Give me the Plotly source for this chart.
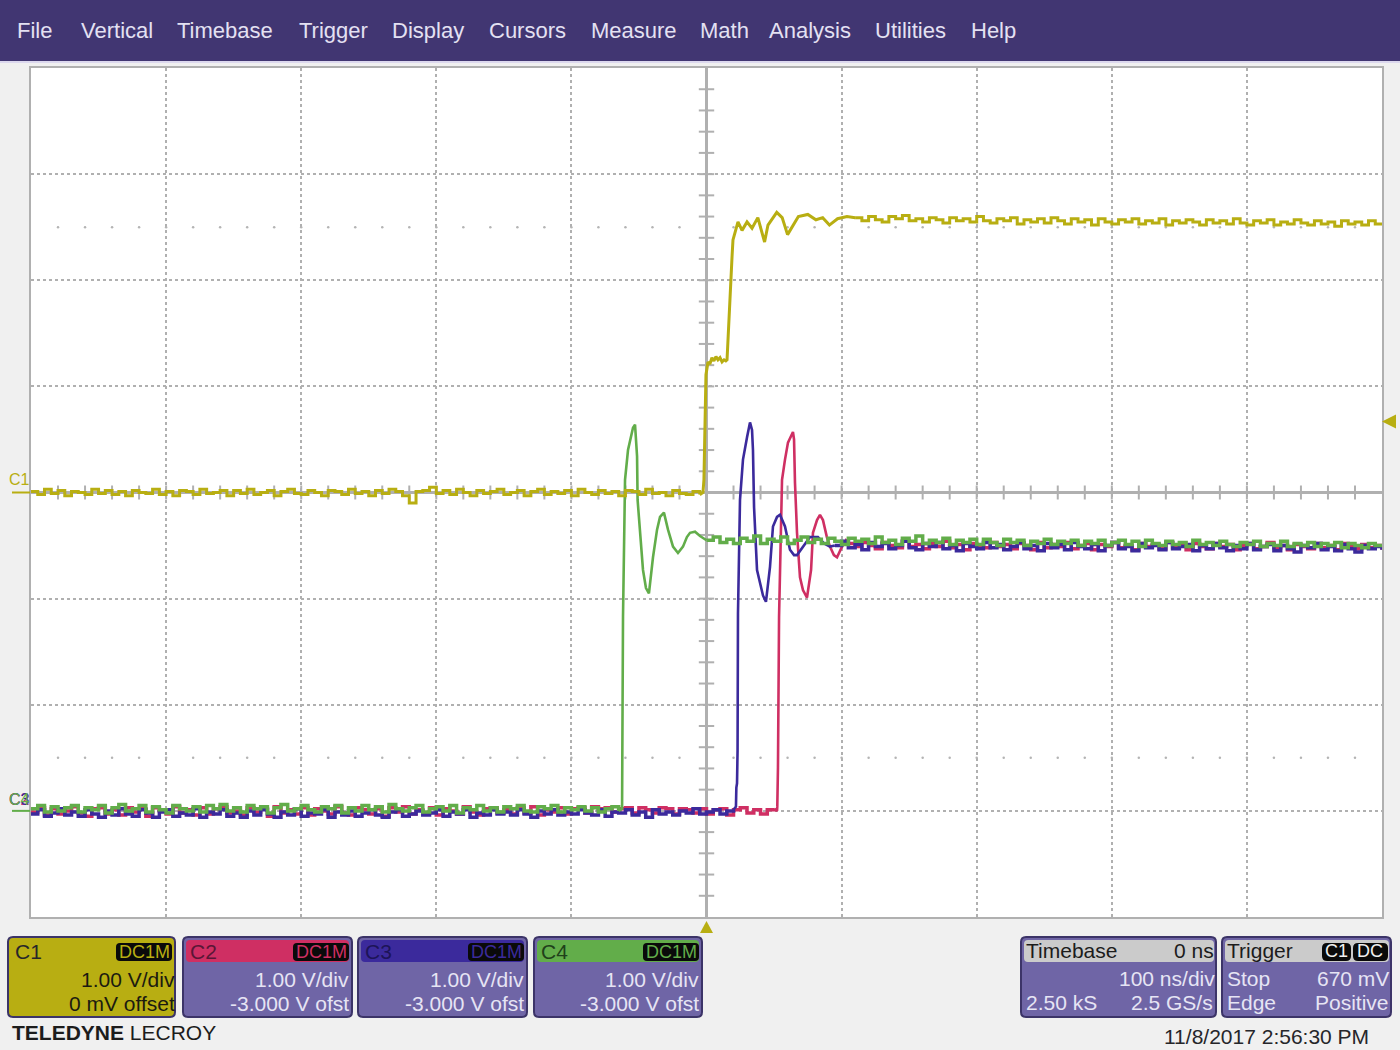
"""Teledyne LeCroy scope screen: four channels, 100 ns/div, 1 V/div."""

from __future__ import annotations

import numpy as np
import plotly.graph_objects as go

WIDTH, HEIGHT = 1400, 1050
PLOT_L, PLOT_R, PLOT_T, PLOT_B = 31, 1382, 68, 917
FONT = "Liberation Sans"

YELLOW = "#b8ae12"
RED = "#cf2f63"
BLUE = "#3b2a9c"
GREEN = "#62ad4a"
PANEL = "#6f65a6"
MENU = "#413672"
LIGHT = "#e6e4f4"
GRID = "#b0b0b0"

STEP_NS = 5
OFFSET_C1 = 0.0
OFFSET_OTHERS = -3.0

MENU_ITEMS = ["File", "Vertical", "Timebase", "Trigger", "Display", "Cursors",
              "Measure", "Math", "Analysis", "Utilities", "Help"]
MENU_X = [16, 80, 176, 298, 391, 488, 590, 699, 768, 874, 970]

# channel 1, volts: flat part from -500 ns in 5 ns samples
c1_pre = [
    0.01, -0.02, 0.03, -0.01, 0.02, -0.03, 0.01, 0.00, -0.02, 0.03,
    -0.01, 0.02, -0.02, 0.01, -0.03, 0.02, 0.00, -0.01, 0.03, -0.02,
    0.01, -0.03, 0.02, 0.01, -0.02, 0.03, -0.01, 0.00, 0.02, -0.03,
    0.02, -0.01, 0.03, -0.02, 0.00, 0.02, -0.03, 0.01, 0.03, -0.01,
    -0.02, 0.02, 0.00, -0.03, 0.02, 0.01, -0.02, 0.03, -0.01, 0.01,
    -0.03, 0.02, -0.01, 0.03, 0.01, -0.03, -0.10, 0.01, 0.02, 0.05,
    -0.01, 0.02, -0.02, 0.03, 0.00, -0.03, 0.02, -0.01, 0.01, 0.03,
    -0.02, 0.00, 0.02, -0.03, 0.01, 0.03, -0.02, 0.01, -0.01, 0.02,
    -0.03, 0.03, 0.00, -0.02, 0.02, -0.01, 0.01, -0.03, 0.02, 0.01,
    -0.02, 0.03, -0.01, 0.00, -0.03, 0.02, -0.01, -0.02, 0.01, -0.02,
]
# channel 1 around the edge
c1_edge_t = [-2.6, -1.9, -1.1, -0.4, 1.1, 2.5, 4.0, 5.5, 7.0, 8.5, 10.0, 11.5, 13.0, 14.3,
             15.2, 16.0, 16.7, 17.4, 18.9, 19.6, 21.1, 23.3, 26.3, 30.0, 33.7, 38.0, 43.0,
             45.5, 52.0, 56.0, 60.0, 68.0, 75.0, 81.0, 86.0, 91.0, 97.0, 104.0]
c1_edge_v = [0.00, 0.12, 0.68, 1.11, 1.23, 1.21, 1.27, 1.24, 1.28, 1.25, 1.27, 1.23, 1.25, 1.24,
             1.25, 1.48, 1.65, 1.91, 2.22, 2.38, 2.45, 2.55, 2.47, 2.55, 2.49, 2.59, 2.36,
             2.52, 2.64, 2.59, 2.43, 2.60, 2.62, 2.57, 2.59, 2.52, 2.58, 2.60]
# channel 1 settled part, from 110 ns
c1_post = [
    2.59, 2.56, 2.60, 2.57, 2.55, 2.60, 2.58, 2.61, 2.56, 2.58,
    2.55, 2.59, 2.57, 2.54, 2.59, 2.56, 2.58, 2.55, 2.60, 2.56,
    2.54, 2.58, 2.56, 2.59, 2.53, 2.57, 2.55, 2.58, 2.54, 2.59,
    2.56, 2.53, 2.58, 2.55, 2.57, 2.52, 2.58, 2.55, 2.53, 2.57,
    2.55, 2.58, 2.53, 2.56, 2.54, 2.58, 2.52, 2.56, 2.54, 2.57,
    2.55, 2.52, 2.57, 2.54, 2.56, 2.53, 2.58, 2.54, 2.52, 2.56,
    2.54, 2.57, 2.52, 2.55, 2.53, 2.57, 2.54, 2.52, 2.56, 2.53,
    2.55, 2.51, 2.56, 2.53, 2.55, 2.52, 2.56, 2.53, 2.54,
]

# channel 2, volts
c2_pre = [
    -0.01, 0.03, -0.04, 0.02, -0.03, 0.00, 0.04, -0.02, -0.05, 0.02,
    0.03, -0.03, 0.01, -0.04, 0.03, -0.01, 0.02, -0.05, 0.03, 0.00,
    -0.03, 0.04, -0.02, 0.01, -0.04, 0.03, -0.03, 0.02, 0.04, -0.02,
    0.00, -0.04, 0.03, -0.01, 0.02, -0.05, 0.04, -0.02, 0.01, -0.03,
    0.03, -0.04, 0.02, 0.00, -0.03, 0.04, -0.02, -0.04, 0.03, 0.01,
    -0.03, 0.02, -0.05, 0.03, -0.01, 0.04, -0.03, 0.01, -0.02, 0.03,
    -0.04, 0.02, 0.00, -0.03, 0.04, -0.01, -0.04, 0.02, 0.03, -0.02,
    0.01, -0.03, 0.03, -0.02, 0.04, -0.04, 0.01, -0.01, 0.03, -0.03,
    0.02, 0.03, -0.02, 0.04, 0.02, 0.03, -0.01, 0.02, 0.03, -0.02,
    0.03, 0.01, -0.02, 0.03, 0.02, -0.03, 0.02, 0.01, -0.02, 0.02,
    -0.03, 0.01, 0.02, -0.04, 0.01, 0.03, -0.02, 0.01, -0.03, 0.01,
    0.02,
]
c2_edge_t = [52.2, 52.4, 52.9, 53.7, 55.9, 58.1, 60.3, 64.0, 64.8, 65.5, 67.0, 69.2, 71.4, 74.4,
             77.4, 78.8, 81.8, 84.0, 86.2, 89.1, 91.4, 94.3, 96.6, 100.3, 103.2]
c2_edge_v = [0.00, 0.04, 0.41, 1.83, 3.12, 3.31, 3.47, 3.57, 3.50, 3.09, 2.62, 2.20, 2.08, 2.01,
             2.27, 2.62, 2.74, 2.79, 2.74, 2.58, 2.49, 2.41, 2.39, 2.49, 2.55]
c2_post = [
    2.52, 2.49, 2.53, 2.50, 2.47, 2.53, 2.50, 2.48, 2.54, 2.49,
    2.51, 2.47, 2.52, 2.49, 2.54, 2.48, 2.51, 2.46, 2.52, 2.50,
    2.48, 2.53, 2.49, 2.51, 2.47, 2.52, 2.50, 2.46, 2.53, 2.48,
    2.51, 2.49, 2.53, 2.47, 2.50, 2.52, 2.46, 2.51, 2.49, 2.53,
    2.48, 2.50, 2.46, 2.52, 2.49, 2.51, 2.47, 2.53, 2.48, 2.50,
    2.46, 2.52, 2.49, 2.47, 2.52, 2.49, 2.51, 2.46, 2.50, 2.52,
    2.47, 2.49, 2.53, 2.48, 2.50, 2.46, 2.51, 2.49, 2.47, 2.52,
    2.48, 2.50, 2.46, 2.52, 2.49, 2.47, 2.51, 2.48, 2.50, 2.46,
]

# channel 3, volts
c3_pre = [
    -0.03, 0.01, -0.05, -0.02, 0.02, -0.04, -0.01, -0.05, 0.01, -0.03,
    -0.06, 0.00, -0.04, 0.02, -0.03, -0.05, 0.01, -0.02, -0.06, -0.01,
    0.01, -0.05, -0.02, -0.04, 0.02, -0.06, -0.01, -0.03, 0.01, -0.05,
    -0.02, -0.06, 0.00, -0.04, 0.01, -0.03, -0.06, -0.01, -0.04, 0.02,
    -0.05, -0.02, -0.03, 0.01, -0.06, -0.01, -0.04, 0.00, -0.05, -0.02,
    0.01, -0.04, -0.06, -0.01, 0.01, -0.05, -0.03, 0.00, -0.04, -0.02,
    0.01, -0.05, -0.01, -0.03, 0.01, -0.06, -0.02, -0.04, 0.01, -0.03,
    -0.01, -0.04, 0.01, -0.03, -0.06, 0.00, -0.03, 0.01, -0.04, -0.01,
    -0.03, 0.01, -0.02, -0.04, 0.01, -0.05, -0.01, -0.02, 0.01, -0.04,
    -0.01, -0.06, 0.01, -0.03, -0.01, -0.04, 0.00, -0.02, 0.02, -0.03,
    -0.01, 0.01, -0.03, 0.00, 0.01,
]
c3_edge_t = [21.8, 22.1, 22.6, 23.0, 23.3, 24.8, 27.0, 30.0, 32.2, 33.7, 34.4, 35.2, 37.4, 39.6,
             41.8, 44.0, 47.0, 49.2, 52.2, 54.4, 58.1, 61.8, 64.8, 67.0, 71.4, 76.6, 82.5, 87.0, 91.4]
c3_edge_v = [0.04, 0.22, 0.26, 0.57, 1.86, 2.93, 3.31, 3.52, 3.66, 3.59, 3.40, 2.86, 2.27, 2.15,
             2.03, 1.97, 2.30, 2.68, 2.77, 2.79, 2.68, 2.46, 2.41, 2.41, 2.49, 2.58, 2.58, 2.52, 2.49]
c3_post = [
    2.50, 2.54, 2.48, 2.51, 2.46, 2.53, 2.49, 2.52, 2.47, 2.50,
    2.54, 2.48, 2.46, 2.52, 2.49, 2.53, 2.47, 2.50, 2.45, 2.52,
    2.49, 2.47, 2.53, 2.48, 2.51, 2.46, 2.49, 2.53, 2.47, 2.50,
    2.45, 2.52, 2.48, 2.51, 2.46, 2.53, 2.49, 2.47, 2.51, 2.45,
    2.50, 2.53, 2.47, 2.49, 2.45, 2.52, 2.48, 2.50, 2.46, 2.53,
    2.47, 2.49, 2.51, 2.45, 2.50, 2.47, 2.52, 2.48, 2.45, 2.50,
    2.47, 2.52, 2.46, 2.49, 2.51, 2.45, 2.50, 2.47, 2.44, 2.50,
    2.48, 2.52, 2.46, 2.49, 2.45, 2.51, 2.47, 2.44, 2.50, 2.47,
    2.49, 2.46,
]

# channel 4, volts
c4_pre = [
    0.02, 0.05, -0.01, 0.04, 0.00, 0.03, 0.05, -0.01, 0.03, 0.01,
    0.05, -0.02, 0.03, 0.06, 0.00, 0.02, 0.05, -0.01, 0.04, 0.01,
    -0.02, 0.05, 0.02, 0.00, 0.04, -0.01, 0.05, 0.02, 0.06, 0.00,
    0.03, -0.01, 0.05, 0.02, 0.04, -0.02, 0.03, 0.06, 0.00, 0.02,
    0.05, 0.01, -0.01, 0.04, 0.02, 0.05, -0.02, 0.03, 0.00, 0.05,
    0.01, 0.04, -0.01, 0.06, 0.02, 0.00, 0.03, 0.05, -0.01, 0.02,
    0.04, 0.00, 0.05, -0.02, 0.03, 0.01, 0.05, 0.00, 0.03, -0.01,
    0.04, 0.02, 0.05, 0.00, -0.01, 0.04, 0.02, 0.05, -0.01, 0.03,
    0.01, 0.04, 0.00, 0.03, -0.01, 0.02, 0.04, 0.00,
]
c4_edge_t = [-62.5, -61.8, -61.1, -60.3, -58.1, -54.4, -52.9, -51.4, -51.0, -49.2, -47.0, -44.8,
             -42.6, -39.6, -36.6, -34.4, -31.5, -28.5, -24.8, -21.1, -17.4, -14.5, -12.2, -8.5, -4.8]
c4_edge_v = [0.02, 1.83, 2.71, 3.12, 3.40, 3.61, 3.64, 3.34, 2.93, 2.62, 2.27, 2.10,
             2.05, 2.39, 2.65, 2.77, 2.81, 2.65, 2.49, 2.43, 2.49, 2.58, 2.62, 2.63, 2.59]
c4_post = [
    2.55, 2.58, 2.53, 2.56, 2.52, 2.57, 2.54, 2.59, 2.52, 2.56,
    2.54, 2.58, 2.52, 2.55, 2.58, 2.53, 2.56, 2.52, 2.57, 2.54,
    2.51, 2.57, 2.54, 2.56, 2.52, 2.58, 2.53, 2.55, 2.51, 2.57,
    2.54, 2.59, 2.52, 2.55, 2.53, 2.57, 2.51, 2.55, 2.53, 2.56,
    2.51, 2.56, 2.53, 2.50, 2.56, 2.53, 2.55, 2.50, 2.54, 2.52,
    2.56, 2.51, 2.54, 2.52, 2.55, 2.50, 2.54, 2.52, 2.55, 2.50,
    2.53, 2.55, 2.51, 2.54, 2.49, 2.55, 2.52, 2.50, 2.54, 2.51,
    2.53, 2.49, 2.55, 2.51, 2.53, 2.50, 2.54, 2.51, 2.49, 2.53,
    2.51, 2.54, 2.49, 2.52, 2.50, 2.54, 2.49, 2.52, 2.50, 2.53,
    2.49, 2.52, 2.50, 2.53, 2.48, 2.52, 2.50, 2.48, 2.52, 2.50,
    2.49,
]


def samples(start: float, values: list[float]) -> list[float]:
    """Time of each sample in a stretch recorded at the fixed step."""

    return [start + STEP_NS * i for i in range(len(values))]


def px_x(x: float) -> float:
    return (x - PLOT_L) / (PLOT_R - PLOT_L)


def px_y(y: float) -> float:
    return (PLOT_B - y) / (PLOT_B - PLOT_T)


def rounded(x0: float, y0: float, x1: float, y1: float, r: float, fill: str, line: str = "rgba(0,0,0,0)", width: float = 0) -> dict:
    """Rounded box given in screen pixels, as a paper-referenced path."""

    pts = (
        f"M {px_x(x0 + r)} {px_y(y0)} L {px_x(x1 - r)} {px_y(y0)} "
        f"Q {px_x(x1)} {px_y(y0)} {px_x(x1)} {px_y(y0 + r)} "
        f"L {px_x(x1)} {px_y(y1 - r)} Q {px_x(x1)} {px_y(y1)} {px_x(x1 - r)} {px_y(y1)} "
        f"L {px_x(x0 + r)} {px_y(y1)} Q {px_x(x0)} {px_y(y1)} {px_x(x0)} {px_y(y1 - r)} "
        f"L {px_x(x0)} {px_y(y0 + r)} Q {px_x(x0)} {px_y(y0)} {px_x(x0 + r)} {px_y(y0)} Z"
    )
    return dict(type="path", path=pts, xref="paper", yref="paper", fillcolor=fill,
                line=dict(color=line, width=width), layer="above")


def label(x: float, y: float, text: str, color: str, size: float = 21, anchor: str = "left") -> dict:
    return dict(x=px_x(x), y=px_y(y), xref="paper", yref="paper", text=text, showarrow=False,
                xanchor=anchor, yanchor="middle", borderpad=0,
                font=dict(family=FONT, size=size, color=color))


def ground_flag(level: float, colour: str) -> dict:
    """Short dash left of the grid at a channel's zero volts."""

    return dict(type="line", xref="paper", yref="y", x0=px_x(12), x1=px_x(30), y0=level, y1=level,
                line=dict(color=colour, width=2), layer="above")


shapes = [
    dict(type="rect", xref="paper", yref="paper", x0=px_x(0), x1=px_x(WIDTH), y0=px_y(0), y1=px_y(61),
         fillcolor=MENU, line_width=0, layer="above"),
    dict(type="rect", xref="paper", yref="paper", x0=px_x(0), x1=px_x(WIDTH), y0=px_y(61), y1=px_y(63),
         fillcolor="#dcd8ee", line_width=0, layer="above"),
    ground_flag(OFFSET_C1, YELLOW),
    ground_flag(OFFSET_OTHERS, GREEN),
    # trigger delay marker, under the grid at 0 ns
    dict(type="path", xref="paper", yref="paper", fillcolor=YELLOW, line_width=0, layer="above",
         path=f"M {px_x(706.5)} {px_y(921)} L {px_x(713)} {px_y(933)} L {px_x(700)} {px_y(933)} Z"),
    # trigger level marker, right of the grid
    dict(type="path", xref="paper", yref="paper", fillcolor=YELLOW, line_width=0, layer="above",
         path=(f"M {px_x(1382)} {px_y(421.4)} L {px_x(1396)} {px_y(414.4)} "
               f"L {px_x(1396)} {px_y(428.4)} Z")),
]
annotations = [label(x, 31, item, "#e4e1f2", size=22) for item, x in zip(MENU_ITEMS, MENU_X)]

# channel descriptor boxes: left, right, header colour, name, name colour, offset text
boxes = [
    (8, 175, YELLOW, "C1", "#26262a", "0 mV offset"),
    (183, 352, RED, "C2", "#5a1636", "-3.000 V ofst"),
    (358, 527, BLUE, "C3", "#1d1458", "-3.000 V ofst"),
    (534, 702, GREEN, "C4", "#20401a", "-3.000 V ofst"),
]
for left, right, colour, name, name_colour, offset_text in boxes:
    active = name == "C1"
    text_colour = "#1b1b10" if active else LIGHT
    text_right = right + 1 if active else right - 2
    shapes.append(rounded(left, 937, right, 1017, 5, YELLOW if active else PANEL, "#3c3468", 2))
    shapes.append(rounded(left + 3, 940, right - 3, 962, 4, colour))
    shapes.append(rounded(right - 59, 943, right - 3, 961, 4, "#0a0a0a"))
    annotations += [
        label(left + 6, 951, name, name_colour),
        label(right - 31, 952, "DC1M", colour, size=18, anchor="center"),
        label(text_right, 979, "1.00 V/div", text_colour, anchor="right"),
        label(text_right, 1003, offset_text, text_colour, anchor="right"),
    ]

for left, right in [(1021, 1216), (1222, 1391)]:
    shapes.append(rounded(left, 937, right, 1017, 5, PANEL, "#3c3468", 2))
    shapes.append(rounded(left + 3, 940, right - 2, 962, 4, "#cbcbcb"))
shapes.append(rounded(1322, 943, 1351, 961, 5, "#0a0a0a"))
shapes.append(rounded(1353, 943, 1388, 961, 5, "#0a0a0a"))
annotations += [
    label(1025, 950, "Timebase", "#1c1c1c"),
    label(1215, 950, "0 ns", "#1c1c1c", anchor="right"),
    label(1216, 978, "100 ns/div", LIGHT, anchor="right"),
    label(1025, 1002, "2.50 kS", LIGHT),
    label(1214, 1002, "2.5 GS/s", LIGHT, anchor="right"),
    label(1226, 950, "Trigger", "#1c1c1c"),
    label(1336, 951, "C1", "#f0f0f0", size=18, anchor="center"),
    label(1370, 951, "DC", "#f0f0f0", size=18, anchor="center"),
    label(1226, 978, "Stop", LIGHT),
    label(1390, 978, "670 mV", LIGHT, anchor="right"),
    label(1226, 1002, "Edge", LIGHT),
    label(1390, 1002, "Positive", LIGHT, anchor="right"),
    label(1163, 1036, "11/8/2017 2:56:30 PM", "#26262a"),
    label(11, 1032, "<b>TELEDYNE</b> LECROY", "#1c1c1c"),
    label(8, 479, "C1", YELLOW, size=16),
    label(8, 799, "C2", RED, size=16),
    label(8, 799, "C3", BLUE, size=16),
    label(8, 799, "C4", GREEN, size=16),
]

fig = go.Figure()

# centre graticule ticks and the two rows of small dots
tick_t = [t for t in range(-480, 500, 20) if t != 0]
tick_v = [v / 10 for v in range(-38, 40, 2) if v != 0]
fig.add_trace(go.Scatter(x=tick_t, y=[0] * len(tick_t), mode="markers", hoverinfo="skip",
                         marker=dict(symbol="line-ns", size=10, line=dict(color=GRID, width=2))))
fig.add_trace(go.Scatter(x=[0] * len(tick_v), y=tick_v, mode="markers", hoverinfo="skip",
                         marker=dict(symbol="line-ew", size=11, line=dict(color=GRID, width=2))))
for level in (2.5, -2.5):
    fig.add_trace(go.Scatter(x=tick_t, y=[level] * len(tick_t), mode="markers", hoverinfo="skip",
                             marker=dict(symbol="circle", size=2.5, color="#b4b4b4")))

# name, colour, offset, stretches, start of settled part, noise width, edge width
channels = [
    ("C2", RED, OFFSET_OTHERS, c2_pre, c2_edge_t, c2_edge_v, 105, c2_post, 3.5, 2.6),
    ("C3", BLUE, OFFSET_OTHERS, c3_pre, c3_edge_t, c3_edge_v, 95, c3_post, 3.5, 2.6),
    ("C4", GREEN, OFFSET_OTHERS, c4_pre, c4_edge_t, c4_edge_v, 0, c4_post, 3.5, 2.6),
    ("C1", YELLOW, OFFSET_C1, c1_pre, c1_edge_t, c1_edge_v, 110, c1_post, 3, 3),
]
for name, colour, offset, pre, edge_t, edge_v, t1, post, noise_w, edge_w in channels:
    pre_t = samples(-500, pre)
    post_t = samples(t1, post)
    # flat parts look blocky on the screen, the edge and ringing are drawn straight
    fig.add_trace(go.Scatter(x=pre_t, y=np.array(pre) + offset, mode="lines", name=name, hoverinfo="skip",
                             line=dict(color=colour, width=noise_w, shape="hv")))
    fig.add_trace(go.Scatter(x=post_t, y=np.array(post) + offset, mode="lines", name=name, hoverinfo="skip",
                             line=dict(color=colour, width=noise_w, shape="hv")))
    fig.add_trace(go.Scatter(x=pre_t[-1:] + edge_t + post_t[:1],
                             y=np.array(pre[-1:] + edge_v + post[:1]) + offset,
                             mode="lines", name=name, hoverinfo="skip",
                             line=dict(color=colour, width=edge_w)))

fig.update_layout(
    width=WIDTH,
    height=HEIGHT,
    margin=dict(l=PLOT_L, r=WIDTH - PLOT_R, t=PLOT_T, b=HEIGHT - PLOT_B, pad=0),
    paper_bgcolor="#f0f0f0",
    plot_bgcolor="#ffffff",
    showlegend=False,
    shapes=shapes,
    annotations=annotations,
)
fig.update_xaxes(range=[-500, 500], dtick=100, showticklabels=False, showline=True, mirror=True,
                 linecolor=GRID, linewidth=2, showgrid=True, gridcolor=GRID, griddash="dot", gridwidth=1.5,
                 zeroline=True, zerolinecolor=GRID, zerolinewidth=3)
fig.update_yaxes(range=[-4, 4], dtick=1, showticklabels=False, showline=True, mirror=True,
                 linecolor=GRID, linewidth=2, showgrid=True, gridcolor=GRID, griddash="dot", gridwidth=1.5,
                 zeroline=True, zerolinecolor=GRID, zerolinewidth=3)

fig.write_html("out.html", config=dict(displayModeBar=False),
               post_script="document.body.style.margin='0';document.body.style.background='#f0f0f0';")
